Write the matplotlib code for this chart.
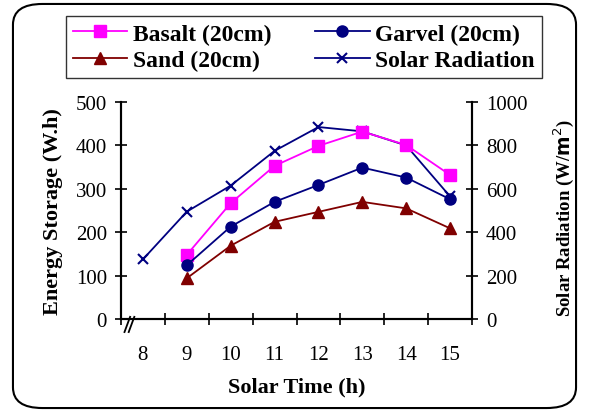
import numpy as np
import matplotlib.pyplot as plt
from matplotlib.patches import FancyBboxPatch

plt.rcParams['font.family'] = ['Liberation Serif', 'DejaVu Serif']

hours = [8, 9, 10, 11, 12, 13, 14, 15]
storage_hours = [9, 10, 11, 12, 13, 14, 15]
basalt = [148, 267, 353, 399, 432, 401, 332]
garvel = [124, 213, 270, 309, 349, 326, 276]
sand = [94, 169, 224, 247, 270, 255, 209]
radiation = [275, 495, 615, 775, 885, 865, 800, 565]

fig = plt.figure(figsize=(5.89, 4.14), dpi=100)
ax = fig.add_axes([0.2054, 0.227, 0.596, 0.524])
ax2 = ax.twinx()

# category positions (Excel style)
xr = np.arange(len(hours))
xs = xr[1:]

l1, = ax.plot(xs, basalt, color='#ff00ff', marker='s', markersize=8, lw=1.3, label='Basalt (20cm)')
l2, = ax.plot(xs, garvel, color='#000080', marker='o', markersize=8, lw=1.3, label='Garvel (20cm)')
l3, = ax.plot(xs, sand, color='#800000', marker='^', markersize=9, lw=1.3, label='Sand (20cm)')
l4, = ax2.plot(xr, radiation, color='#000080', marker='x', markersize=7, mew=1.5, lw=1.3, label='Solar Radiation')
ax.set_zorder(ax2.get_zorder() + 1)
ax.patch.set_visible(False)

ax.set_xlim(-0.5, len(hours) - 0.5)
ax.set_ylim(0, 500)
ax2.set_ylim(0, 1000)
ax.set_yticks(range(0, 501, 100))
ax2.set_yticks(range(0, 1001, 200))
ax.set_xticks(np.arange(-0.5, len(hours)))
ax.set_xticklabels([])
ax.set_xticks(xr, minor=True)
ax.set_xticklabels([str(h) for h in hours], minor=True)
ax.tick_params(axis='x', which='minor', length=0, pad=19, labelsize=15)
ax.tick_params(axis='x', which='major', direction='inout', length=8, width=1.2)
ax.tick_params(axis='y', direction='inout', length=8, width=1.2, labelsize=15, pad=6)
ax2.tick_params(axis='y', direction='inout', length=8, width=1.2, labelsize=15, pad=6)
for a in (ax, ax2):
    for s in a.spines.values():
        s.set_linewidth(1.5)
ax.spines['top'].set_visible(False)
ax2.spines['top'].set_visible(False)

ax.set_xlabel('Solar Time (h)', fontsize=16, fontweight='bold')
ax.set_ylabel('Energy Storage (W.h)', fontsize=16, fontweight='bold')
ax2.set_ylabel(r'Solar Radiation (W/$\mathbf{m}^{2}$)', fontsize=13.5, fontweight='bold')
ax.xaxis.set_label_coords(0.5, -0.265)
ax.yaxis.set_label_coords(-0.165, 0.5)
ax2.yaxis.set_label_coords(1.225, 0.47)

# axis break marks
for dx in (0.018, 0.03):
    ax.plot([dx - 0.008, dx + 0.008], [-0.06, 0.01], transform=ax.transAxes,
            color='black', lw=1.3, clip_on=False)

fig.legend(handles=[l1, l3, l2, l4], loc='center',
           bbox_to_anchor=(304 / 589, 1 - 48 / 414),
           ncol=2, frameon=True, fancybox=False, edgecolor='black',
           prop={'weight': 'bold', 'size': 17}, handlelength=2.3, handletextpad=0.25,
           columnspacing=1.85, borderpad=0.3, labelspacing=0.2, borderaxespad=0)

fig.patches.append(FancyBboxPatch((0.022, 0.012), 0.956, 0.976, boxstyle='round,pad=0,rounding_size=0.05',
                                  transform=fig.transFigure, fill=False, edgecolor='black', lw=1.5))

fig.savefig('out.png', dpi=100)
